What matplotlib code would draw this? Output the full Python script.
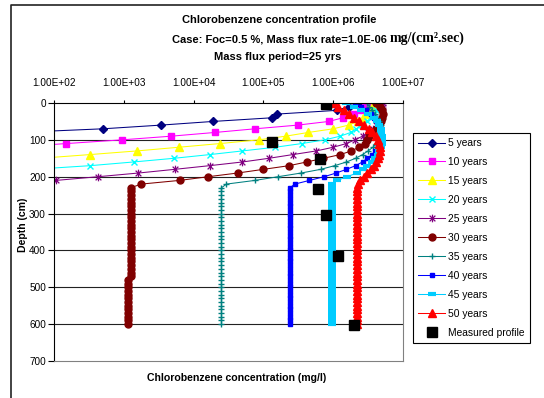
from matplotlib import pyplot as plt
from matplotlib.lines import Line2D
from matplotlib.path import Path

plt.rcParams['font.family'] = ['Liberation Sans', 'DejaVu Sans']

# model output depths (cm), 10 cm spacing
depth_cm = [0, 10, 20, 30, 40, 50, 60, 70, 80, 90, 100, 110, 120, 130, 140, 150, 160, 170, 180, 190,
            200, 210, 220, 230, 240, 250, 260, 270, 280, 290, 300, 310, 320, 330, 340, 350, 360, 370,
            380, 390, 400, 410, 420, 430, 440, 450, 460, 470, 480, 490, 500, 510, 520, 530, 540, 550,
            560, 570, 580, 590, 600]

years = [5, 10, 15, 20, 25, 30, 35, 40, 45, 50]

# concentration (mg/l) from the surface downwards
conc_5 = [2.29e6, 1.66e6, 1.12e6, 1.58e5, 1.35e5, 1.91e4, 3.39e3, 501, 30]
conc_10 = [3.16e6, 2.88e6, 2.51e6, 2.0e6, 1.38e6, 8.7e5, 3.09e5, 7.59e4, 2.0e4, 4.79e3, 933, 151, 25]
conc_15 = [3.80e6, 3.72e6, 3.47e6, 3.16e6, 2.69e6, 2.24e6, 1.66e6, 1.0e6, 4.37e5, 2.09e5, 8.51e4,
           2.40e4, 6.17e3, 1.55e3, 324, 63]
conc_20 = [4.47e6, 4.37e6, 4.17e6, 3.89e6, 3.47e6, 3.02e6, 2.57e6, 2.14e6, 1.78e6, 1.26e6, 7.59e5,
           3.55e5, 1.48e5, 5.01e4, 1.70e4, 5.25e3, 1.38e3, 331, 50]
conc_25 = [5.25e6, 5.25e6, 5.25e6, 5.13e6, 4.90e6, 4.57e6, 4.17e6, 3.72e6, 3.16e6, 2.63e6, 2.04e6,
           1.55e6, 1.0e6, 5.75e5, 2.63e5, 1.20e5, 5.01e4, 1.70e4, 5.37e3, 1.62e3, 427, 107, 25]
conc_30 = [4.17e6, 4.68e6, 5.01e6, 5.13e6, 5.01e6, 4.79e6, 4.47e6, 4.07e6, 3.72e6, 3.31e6, 3.09e6,
           2.82e6, 2.34e6, 1.82e6, 1.26e6, 7.24e5, 4.17e5, 2.34e5, 1.0e5, 4.27e4, 1.62e4, 6.31e3, 1.78e3,
           1.25e3, 1.25e3, 1.25e3, 1.25e3, 1.25e3, 1.25e3, 1.25e3, 1.25e3, 1.25e3, 1.25e3, 1.25e3, 1.25e3,
           1.25e3, 1.25e3, 1.25e3, 1.25e3, 1.25e3, 1.25e3, 1.25e3, 1.25e3, 1.25e3, 1.25e3, 1.25e3, 1.25e3,
           1.25e3, 1.16e3, 1.16e3, 1.16e3, 1.16e3, 1.16e3, 1.16e3, 1.16e3, 1.16e3, 1.16e3, 1.16e3, 1.16e3,
           1.16e3, 1.16e3]
conc_35 = [3.02e6, 3.31e6, 3.63e6, 3.98e6, 4.27e6, 4.57e6, 4.79e6, 4.90e6, 4.90e6, 4.79e6, 4.47e6,
           4.17e6, 3.72e6, 3.16e6, 2.63e6, 2.09e6, 1.55e6, 1.05e6, 6.61e5, 3.47e5, 1.62e5, 7.59e4, 2.95e4,
           2.51e4, 2.51e4, 2.51e4, 2.51e4, 2.51e4, 2.51e4, 2.51e4, 2.51e4, 2.51e4, 2.51e4, 2.51e4, 2.51e4,
           2.51e4, 2.51e4, 2.51e4, 2.51e4, 2.51e4, 2.51e4, 2.51e4, 2.51e4, 2.51e4, 2.51e4, 2.51e4, 2.51e4,
           2.51e4, 2.51e4, 2.51e4, 2.51e4, 2.51e4, 2.51e4, 2.51e4, 2.51e4, 2.51e4, 2.51e4, 2.51e4, 2.51e4,
           2.51e4, 2.51e4]
conc_40 = [2.04e6, 2.51e6, 2.95e6, 3.47e6, 3.89e6, 4.27e6, 4.57e6, 4.79e6, 4.90e6, 4.90e6, 4.79e6,
           4.57e6, 4.37e6, 3.98e6, 3.63e6, 3.09e6, 2.63e6, 2.09e6, 1.55e6, 1.10e6, 7.41e5, 4.57e5, 2.82e5,
           2.40e5, 2.40e5, 2.40e5, 2.40e5, 2.40e5, 2.40e5, 2.40e5, 2.40e5, 2.40e5, 2.40e5, 2.40e5, 2.40e5,
           2.40e5, 2.40e5, 2.40e5, 2.40e5, 2.40e5, 2.40e5, 2.40e5, 2.40e5, 2.40e5, 2.40e5, 2.40e5, 2.40e5,
           2.40e5, 2.40e5, 2.40e5, 2.40e5, 2.40e5, 2.40e5, 2.40e5, 2.40e5, 2.40e5, 2.40e5, 2.40e5, 2.40e5,
           2.40e5, 2.40e5]
conc_45 = [1.51e6, 2.0e6, 2.51e6, 3.16e6, 3.80e6, 4.27e6, 4.57e6, 4.79e6, 4.90e6, 5.01e6, 5.01e6,
           5.01e6, 4.79e6, 4.57e6, 4.37e6, 3.98e6, 3.55e6, 3.09e6, 2.69e6, 2.19e6, 1.58e6, 1.15e6, 9.55e5,
           9.5e5, 9.5e5, 9.5e5, 9.5e5, 9.5e5, 9.5e5, 9.5e5, 9.5e5, 9.5e5, 9.5e5, 9.5e5, 9.5e5,
           9.5e5, 9.5e5, 9.5e5, 9.5e5, 9.5e5, 9.5e5, 9.5e5, 9.5e5, 9.5e5, 9.5e5, 9.5e5, 9.5e5,
           9.5e5, 9.5e5, 9.5e5, 9.5e5, 9.5e5, 9.5e5, 9.5e5, 9.5e5, 9.5e5, 9.5e5, 9.5e5, 9.5e5,
           9.5e5, 9.5e5]
conc_50 = [1.02e6, 1.17e6, 1.41e6, 1.70e6, 2.0e6, 2.34e6, 2.75e6, 3.24e6, 3.63e6, 4.07e6, 4.37e6,
           4.57e6, 4.68e6, 4.68e6, 4.57e6, 4.37e6, 4.07e6, 3.80e6, 3.47e6, 3.09e6, 2.75e6, 2.45e6, 2.24e6,
           2.17e6, 2.17e6, 2.17e6, 2.17e6, 2.17e6, 2.17e6, 2.17e6, 2.17e6, 2.17e6, 2.17e6, 2.17e6, 2.17e6,
           2.17e6, 2.17e6, 2.17e6, 2.17e6, 2.17e6, 2.17e6, 2.17e6, 2.17e6, 2.17e6, 2.17e6, 2.17e6, 2.17e6,
           2.17e6, 2.17e6, 2.17e6, 2.17e6, 2.17e6, 2.17e6, 2.17e6, 2.17e6, 2.17e6, 2.17e6, 2.17e6, 2.17e6,
           2.17e6, 2.17e6]

measured_depth = [4, 105, 152, 233, 304, 414, 602]
measured_conc = [7.94e5, 1.35e5, 6.46e5, 6.03e5, 7.94e5, 1.17e6, 2.0e6]

x_ticks = [1e2, 1e3, 1e4, 1e5, 1e6, 1e7]
y_ticks = [0, 100, 200, 300, 400, 500, 600, 700]

series = [conc_5, conc_10, conc_15, conc_20, conc_25, conc_30, conc_35, conc_40, conc_45, conc_50]

# excel style asterisk: an x with a vertical bar
star = Path([(0, -1), (0, 1), (-0.75, -0.75), (0.75, 0.75), (-0.75, 0.75), (0.75, -0.75)],
            [Path.MOVETO, Path.LINETO, Path.MOVETO, Path.LINETO, Path.MOVETO, Path.LINETO])

styles = [
    dict(color='#000080', marker='D', ms=3.6),
    dict(color='#FF00FF', marker='s', ms=4.6),
    dict(color='#FFFF00', marker='^', ms=5.2),
    dict(color='#00FFFF', marker='x', ms=4.5, mew=1),
    dict(color='#800080', marker=star, ms=5.5, mew=0.9),
    dict(color='#800000', marker='o', ms=5),
    dict(color='#008080', marker='+', ms=5, mew=1),
    dict(color='#0000FF', marker='s', ms=2.6),
    dict(color='#00CCFF', marker='_', ms=5.5, mew=3),
    dict(color='#FF0000', marker='^', ms=5.2),
]

W, H = 544, 398
fig = plt.figure(figsize=(W / 100, H / 100), dpi=100)
ax = fig.add_axes([54 / W, 37 / H, 349 / W, 258 / H])

for yr, conc, st in zip(years, series, styles):
    ax.plot(conc, depth_cm[:len(conc)], lw=0.75, mec=st['color'], mfc=st['color'],
            label='{} years'.format(yr), **st)
ax.plot(measured_conc, measured_depth, ls='none', marker='s', ms=7, color='black',
        label='Measured profile')

ax.set_xscale('log')
ax.set_xlim(x_ticks[0], x_ticks[-1])
ax.set_ylim(y_ticks[-1], y_ticks[0])
ax.xaxis.tick_top()
ax.set_xticks(x_ticks)
ax.set_xticklabels(['{:.2E}'.format(v) for v in x_ticks])
ax.minorticks_off()
ax.set_yticks(y_ticks)
ax.tick_params(axis='x', direction='out', length=2.5, width=0.8, pad=8, labelsize=7.2)
ax.tick_params(axis='y', direction='out', length=4.3, width=0.8, pad=1.5, labelsize=7.2)
for d in y_ticks[1:-1]:
    ax.axhline(d, color='#222222', lw=0.8, zorder=0.5)
ax.spines['top'].set_color('black')
ax.spines['left'].set_color('black')
ax.spines['right'].set_color('#808080')
ax.spines['bottom'].set_color('#808080')
for s in ax.spines.values():
    s.set_linewidth(0.8)

ax.set_ylabel('Depth (cm)', fontweight='bold', fontsize=7.6)
ax.yaxis.set_label_coords((28 - 54) / 349, (361 - 225) / 258)
fig.text(237 / W, 1 - 378 / H, 'Chlorobenzene concentration (mg/l)', ha='center', va='center',
         fontweight='bold', fontsize=7.6)

leg = ax.legend(loc='upper left', bbox_to_anchor=(413 / W, 1 - 133 / H), bbox_transform=fig.transFigure,
                fontsize=7.4, fancybox=False, edgecolor='black', framealpha=1, borderpad=0.5,
                labelspacing=0.87, handlelength=2.6, handletextpad=0.3, borderaxespad=0, numpoints=1)
leg.get_frame().set_linewidth(0.8)

# titles
fig.text(279 / W, 1 - 20 / H, 'Chlorobenzene concentration profile', ha='center', va='center',
         fontweight='bold', fontsize=8)
fig.text(278 / W, 1 - 57 / H, 'Mass flux period=25 yrs', ha='center', va='center',
         fontweight='bold', fontsize=8)
t2a = fig.text(0, 1 - 42 / H, 'Case: Foc=0.5 %, Mass flux rate=1.0E-06', ha='left', va='baseline',
               fontweight='bold', fontsize=8)
t2b = fig.text(0, 1 - 42 / H, 'mg/(cm\u00b2.sec)', ha='left', va='baseline',
               family='Liberation Serif', fontweight='bold', fontsize=10)
r = fig.canvas.get_renderer()
w1 = t2a.get_window_extent(r).width
w2 = t2b.get_window_extent(r).width
x0 = 318 - (w1 + 3 + w2) / 2
t2a.set_x(x0 / W)
t2b.set_x((x0 + w1 + 3) / W)

# chart frame
fig.add_artist(Line2D([11 / W, 11 / W, 1], [0, 1 - 5 / H, 1 - 5 / H], transform=fig.transFigure,
                      color='#222222', lw=1.2))

fig.savefig('out.png', dpi=100, facecolor='white')
